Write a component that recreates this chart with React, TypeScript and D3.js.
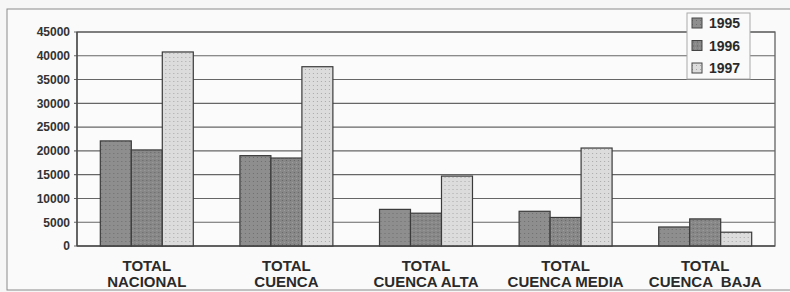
import React from "react";
import * as d3 from "d3";

const categories = [
  ["TOTAL", "NACIONAL"],
  ["TOTAL", "CUENCA"],
  ["TOTAL", "CUENCA ALTA"],
  ["TOTAL", "CUENCA MEDIA"],
  ["TOTAL", "CUENCA  BAJA"],
];
const years = ["1995", "1996", "1997"];
const v1995 = [22100, 19000, 7700, 7300, 4000];
const v1996 = [20200, 18500, 6900, 6000, 5700];
const v1997 = [40800, 37700, 14700, 20600, 2900];
const yTicks = [0, 5000, 10000, 15000, 20000, 25000, 30000, 35000, 40000, 45000];

const series = [v1995, v1996, v1997];
const fills = ["url(#p95)", "url(#p96)", "url(#p97)"];

const W = 790;
const H = 292;
const m = { left: 77, right: 15, top: 32, bottom: 46 };

const App = () => {
  const x0 = d3
    .scaleBand<number>()
    .domain(d3.range(categories.length))
    .range([m.left, W - m.right])
    .paddingInner(0.334)
    .paddingOuter(0.167);
  const x1 = d3.scaleBand<number>().domain(d3.range(years.length)).range([0, x0.bandwidth()]);
  const y = d3.scaleLinear().domain([0, 45000]).range([H - m.bottom, m.top]);
  const font = "'Liberation Sans', Arial, sans-serif";

  return (
    <svg
      width={W}
      height={H}
      style={{ position: "absolute", left: 0, top: 0, background: "#f6f6f6" }}
    >
      <defs>
        <pattern id="p95" width="4" height="4" patternUnits="userSpaceOnUse">
          <rect width="4" height="4" fill="#8e8e8e" />
          <rect x="1" y="1" width="1" height="1" fill="#6e6e6e" />
        </pattern>
        <pattern id="p96" width="4" height="4" patternUnits="userSpaceOnUse">
          <rect width="4" height="4" fill="#888888" />
          <rect x="2" y="0" width="1" height="1" fill="#666" />
          <rect x="0" y="2" width="1" height="1" fill="#a0a0a0" />
        </pattern>
        <pattern id="p97" width="4" height="4" patternUnits="userSpaceOnUse">
          <rect width="4" height="4" fill="#dcdcdc" />
          <rect x="1" y="1" width="1" height="1" fill="#a8a8a8" />
        </pattern>
      </defs>
      {/* outer frame */}
      <rect x={7} y={9} width={W - 5} height={281} fill="#fafafa" stroke="#8a8a8a" strokeWidth={1} />
      {/* plot area */}
      <rect
        x={m.left}
        y={m.top}
        width={W - m.right - m.left}
        height={H - m.bottom - m.top}
        fill="#fbfbfb"
        stroke="#555"
        strokeWidth={1.2}
      />
      {yTicks.map((t) => (
        <g key={t}>
          <line x1={m.left - 3} x2={W - m.right} y1={y(t)} y2={y(t)} stroke="#666" strokeWidth={1.1} />
          <text
            x={m.left - 7}
            y={y(t)}
            dy="0.36em"
            textAnchor="end"
            fontFamily={font}
            fontWeight={700}
            fontSize={12}
            fill="#333"
          >
            {t}
          </text>
        </g>
      ))}
      {categories.map((c, i) => (
        <g key={i} transform={`translate(${x0(i)},0)`}>
          {series.map((s, j) => (
            <rect
              key={j}
              x={x1(j)}
              y={y(s[i])}
              width={x1.bandwidth()}
              height={y(0) - y(s[i])}
              fill={fills[j]}
              stroke="#3a3a3a"
              strokeWidth={1.2}
            />
          ))}
          {c.map((line, k) => (
            <text
              key={k}
              x={x0.bandwidth() / 2}
              y={271 + k * 16}
              textAnchor="middle"
              fontFamily={font}
              fontWeight={700}
              fontSize={15}
              fill="#2a2a2a"
              style={{ whiteSpace: "pre" }}
            >
              {line}
            </text>
          ))}
        </g>
      ))}
      <line x1={m.left} x2={m.left} y1={m.top} y2={y(0)} stroke="#444" strokeWidth={1.2} />
      <line x1={m.left} x2={W - m.right} y1={y(0)} y2={y(0)} stroke="#444" strokeWidth={1.2} />
      {/* legend */}
      <g transform="translate(687,13)">
        <rect width={63} height={66} fill="#fafafa" stroke="#aaa" strokeWidth={1} />
        {years.map((yr, j) => (
          <g key={yr} transform={`translate(0,${10 + j * 22.5})`}>
            <rect x={5} y={-5} width={10} height={10} fill={fills[j]} stroke="#444" strokeWidth={1} />
            <text x={22} y={0} dy="0.36em" fontFamily={font} fontWeight={700} fontSize={14} fill="#2a2a2a">
              {yr}
            </text>
          </g>
        ))}
      </g>
    </svg>
  );
};

export default App;
